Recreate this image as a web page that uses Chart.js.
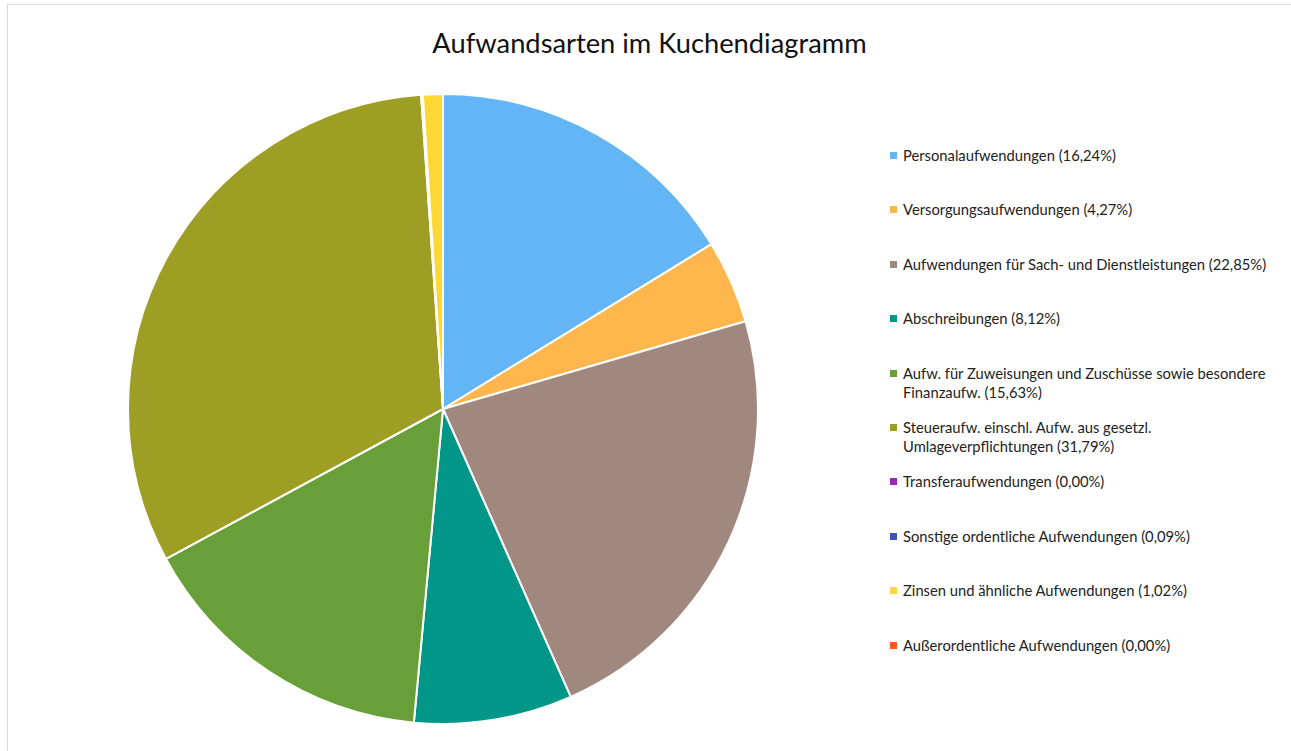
<!DOCTYPE html>
<html>
<head>
<meta charset="utf-8">
<script src="https://cdn.jsdelivr.net/npm/chart.js@4.4.1/dist/chart.umd.min.js"></script>
<style>
  html, body { margin: 0; padding: 0; background: #fff; width: 1291px; height: 751px; overflow: hidden; font-family: Lato, "Open Sans", sans-serif; }
  #frame { position: absolute; left: 7px; top: 4px; width: 1300px; height: 800px; border-left: 1px solid #d9d9d9; border-top: 1px solid #d9d9d9; }
  #title { position: absolute; left: 8px; width: 1283px; top: 26px; text-align: center; font-size: 27.3px; color: #111; }
  #pieWrap { position: absolute; left: 127px; top: 93px; width: 632px; height: 632px; }
  #legend { position: absolute; left: 890px; top: 146px; width: 395px; }
  .item { position: relative; height: 54.4px; padding-left: 13px; font-size: 14.75px; line-height: 19px; color: #222; }
  .item span.box { position: absolute; left: 0; top: 6px; width: 7px; height: 7px; }
</style>
</head>
<body>
<div id="frame"></div>
<div id="title">Aufwandsarten im Kuchendiagramm</div>
<div id="pieWrap"><canvas id="pie"></canvas></div>
<div id="legend"></div>
<script>
// Kategorien und Anteile (in %)
const labels = [
  'Personalaufwendungen',
  'Versorgungsaufwendungen',
  'Aufwendungen für Sach- und Dienstleistungen',
  'Abschreibungen',
  'Aufw. für Zuweisungen und Zuschüsse sowie besondere Finanzaufw.',
  'Steueraufw. einschl. Aufw. aus gesetzl. Umlageverpflichtungen',
  'Transferaufwendungen',
  'Sonstige ordentliche Aufwendungen',
  'Zinsen und ähnliche Aufwendungen',
  'Außerordentliche Aufwendungen'
];
const shares = [16.24, 4.27, 22.85, 8.12, 15.63, 31.79, 0.00, 0.09, 1.02, 0.00];
const colors = ['#64b5f6', '#ffb74d', '#a1887f', '#009688', '#689f38', '#9e9d24', '#9c27b0', '#3f51b5', '#fdd835', '#ff5722'];

const fmt = v => v.toFixed(2).replace('.', ',') + '%';

// Legende als HTML (Zeilenumbruch wie im Original)
const legendEl = document.getElementById('legend');
labels.forEach((l, i) => {
  const div = document.createElement('div');
  div.className = 'item';
  div.innerHTML = '<span class="box" style="background:' + colors[i] + '"></span>' + l + ' (' + fmt(shares[i]) + ')';
  legendEl.appendChild(div);
});

new Chart(document.getElementById('pie'), {
  type: 'pie',
  data: {
    labels: labels,
    datasets: [{ data: shares, backgroundColor: colors, borderColor: '#ffffff', borderWidth: 2 }]
  },
  options: {
    responsive: true,
    maintainAspectRatio: false,
    animation: false,
    layout: { padding: 0 },
    plugins: { legend: { display: false }, tooltip: { enabled: false } }
  }
});
</script>
</body>
</html>
